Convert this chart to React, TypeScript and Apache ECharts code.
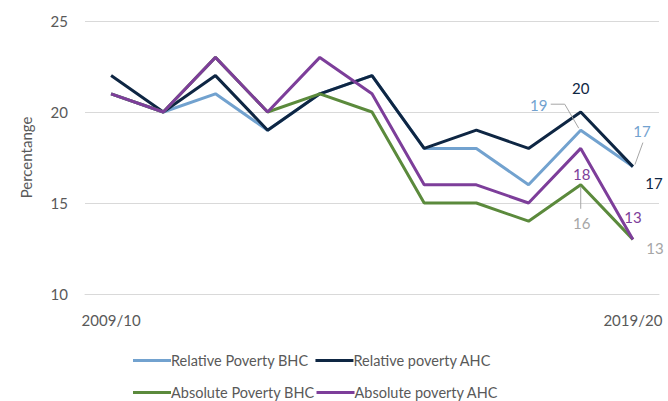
import React, { useEffect, useRef } from "react";
import * as echarts from "echarts";

const categories = ["2009/10", "2010/11", "2011/12", "2012/13", "2013/14", "2014/15", "2015/16", "2016/17", "2017/18", "2018/19", "2019/20"];
const relativeBHC = [21, 20, 21, 19, 21, 22, 18, 18, 16, 19, 17];
const relativeAHC = [22, 20, 22, 19, 21, 22, 18, 19, 18, 20, 17];
const absoluteBHC = [21, 20, 23, 20, 21, 20, 15, 15, 14, 16, 13];
const absoluteAHC = [21, 20, 23, 20, 23, 21, 16, 16, 15, 18, 13];
const seriesNames = ["Relative Poverty BHC", "Relative poverty AHC", "Absolute Poverty BHC", "Absolute poverty AHC"];
const yTicks = [10, 15, 20, 25];

const COLORS = ["#72a2cf", "#0e2643", "#5b8a3c", "#7d3e9a"];
const GRAY = "#a6a6a6";
const TXT = "#595959";
const FONT = "Lato, 'Open Sans', sans-serif";

export default function App() {
  const ref = useRef<HTMLDivElement>(null);
  useEffect(() => {
    if (!ref.current) return;
    document.body.style.margin = "0";
    const chart = echarts.init(ref.current, undefined, { renderer: "svg" });
    const data = [relativeBHC, relativeAHC, absoluteBHC, absoluteAHC];
    const legendText = { color: TXT, fontSize: 14.5, fontFamily: FONT, padding: [0, 0, 0, -5] };
    chart.setOption({
      animation: false,
      grid: { left: 85, right: 9, top: 21, bottom: 107 },
      xAxis: {
        type: "category",
        data: categories,
        boundaryGap: true,
        axisLine: { show: true, lineStyle: { color: "#d9d9d9" } },
        axisTick: { show: false },
        axisLabel: {
          interval: (i: number) => i === 0 || i === categories.length - 1,
          color: TXT,
          fontSize: 15,
          fontFamily: FONT,
          margin: 18,
        },
      },
      yAxis: {
        type: "value",
        min: yTicks[0],
        max: yTicks[yTicks.length - 1],
        interval: 5,
        name: "Percentange",
        nameLocation: "middle",
        nameRotate: 90,
        nameGap: 52,
        nameTextStyle: { color: TXT, fontSize: 15, fontFamily: FONT },
        axisLine: { show: false },
        axisTick: { show: false },
        axisLabel: { color: TXT, fontSize: 15, fontFamily: FONT, margin: 17 },
        splitLine: { lineStyle: { color: "#d9d9d9" } },
      },
      legend: [
        {
          data: [seriesNames[0], seriesNames[1]],
          left: 128,
          top: 348,
          itemWidth: 38,
          itemHeight: 3,
          itemGap: 7,
          icon: "rect",
          textStyle: legendText,
        },
        {
          data: [seriesNames[2], seriesNames[3]],
          left: 128,
          top: 380,
          itemWidth: 38,
          itemHeight: 3,
          itemGap: 2,
          icon: "rect",
          textStyle: legendText,
        },
      ],
      series: data.map((d, i) => ({
        name: seriesNames[i],
        type: "line",
        data: d,
        showSymbol: false,
        symbol: "none",
        color: COLORS[i],
        lineStyle: { width: 3, color: COLORS[i] },
        z: 2 + i,
      })),
    });

    const last = categories.length - 1;
    const prev = last - 1;
    const px = (idx: number, v: number) => chart.convertToPixel({ gridIndex: 0 }, [idx, v]) as number[];
    const txt = (p: number[], dx: number, dy: number, s: string, color: string) => ({
      type: "text",
      x: p[0] + dx,
      y: p[1] + dy,
      style: { text: s, fill: color, fontSize: 15, fontFamily: FONT, align: "center", verticalAlign: "middle" },
      z: 10,
    });
    const ln = (x1: number, y1: number, x2: number, y2: number) => ({
      type: "line",
      shape: { x1, y1, x2, y2 },
      style: { stroke: GRAY, lineWidth: 1 },
      z: 9,
    });
    const pRA9 = px(prev, relativeAHC[prev]);
    const pRB9 = px(prev, relativeBHC[prev]);
    const pAA9 = px(prev, absoluteAHC[prev]);
    const pAB9 = px(prev, absoluteBHC[prev]);
    const pRA10 = px(last, relativeAHC[last]);
    const pRB10 = px(last, relativeBHC[last]);
    const pAA10 = px(last, absoluteAHC[last]);
    const pAB10 = px(last, absoluteBHC[last]);
    chart.setOption({
      graphic: [
        txt(pRA9, 0, -24, String(relativeAHC[prev]), COLORS[1]),
        txt(pRB9, -42, -25, String(relativeBHC[prev]), COLORS[0]),
        ln(pRB9[0] - 30, pRB9[1] - 26, pRB9[0] - 16, pRB9[1] - 26),
        ln(pRB9[0] - 16, pRB9[1] - 26, pRB9[0] - 2, pRB9[1] - 2),
        txt(pAA9, 1, 26, String(absoluteAHC[prev]), COLORS[3]),
        txt(pAB9, 1, 38, String(absoluteBHC[prev]), GRAY),
        ln(pAB9[0], pAB9[1] + 2, pAB9[0], pAB9[1] + 24),
        txt(pRB10, 9, -36, String(relativeBHC[last]), COLORS[0]),
        ln(pRB10[0] + 10, pRB10[1] - 24, pRB10[0] + 2, pRB10[1] - 2),
        txt(pRA10, 21, 16, String(relativeAHC[last]), COLORS[1]),
        txt(pAA10, 0, -22, String(absoluteAHC[last]), COLORS[3]),
        txt(pAB10, 22, 9, String(absoluteBHC[last]), GRAY),
      ],
    });
    return () => chart.dispose();
  }, []);
  return <div ref={ref} style={{ width: 668, height: 401 }} />;
}
